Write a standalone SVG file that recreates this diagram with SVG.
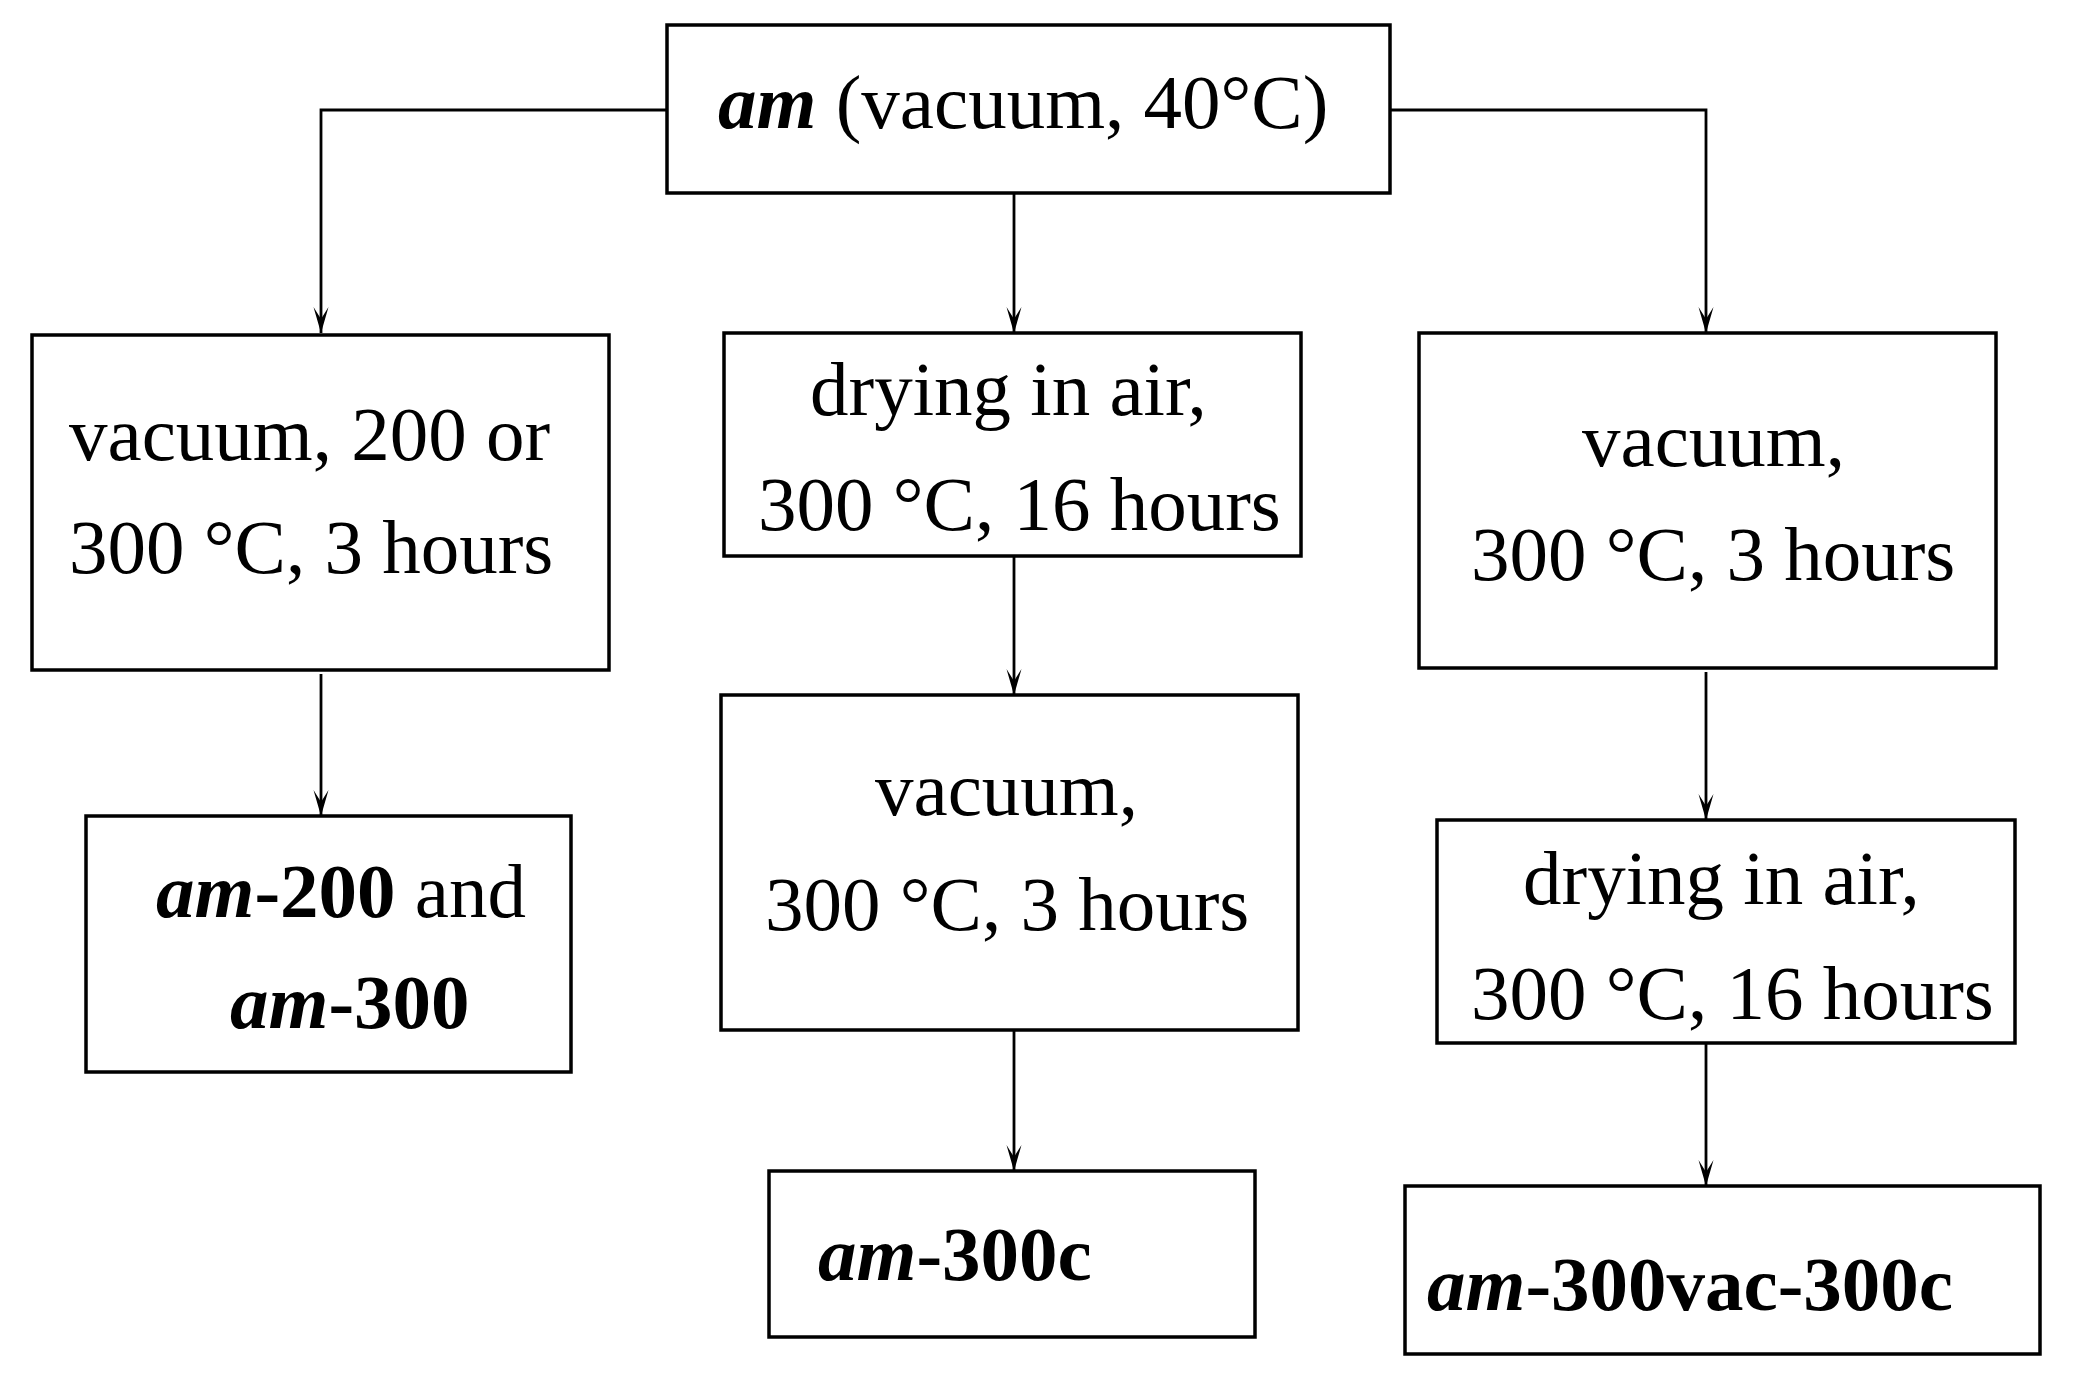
<svg xmlns="http://www.w3.org/2000/svg" width="2076" height="1385" viewBox="0 0 2076 1385">
<style>
.box{fill:#fff;stroke:#000;stroke-width:3.5}
.con{fill:none;stroke:#000;stroke-width:2.8}
text{font-family:"Liberation Serif","Times New Roman",serif;font-size:77px;fill:#000}
.bi{font-weight:bold;font-style:italic}
.b{font-weight:bold}
</style>
<defs>
<marker id="arr" markerUnits="userSpaceOnUse" markerWidth="32" markerHeight="20" viewBox="-30 -10 32 20" refX="0" refY="0" orient="auto">
<path d="M0,0 L-26,-7.5 L-14,0 L-26,7.5 Z" fill="#000"/>
</marker>
</defs>
<rect width="2076" height="1385" fill="#fff"/>
<g id="connectors">
<path class="con" d="M667,110 H321 V333" marker-end="url(#arr)"/>
<path class="con" d="M1390,110 H1706 V333" marker-end="url(#arr)"/>
<path class="con" d="M1014,193 V333" marker-end="url(#arr)"/>
<path class="con" d="M321,674 V816" marker-end="url(#arr)"/>
<path class="con" d="M1014,556 V695" marker-end="url(#arr)"/>
<path class="con" d="M1014,1030 V1171" marker-end="url(#arr)"/>
<path class="con" d="M1706,672 V820" marker-end="url(#arr)"/>
<path class="con" d="M1706,1043 V1186" marker-end="url(#arr)"/>
</g>
<g id="n_am">
<rect class="box" x="667" y="25" width="723" height="168"/>
<text x="718" y="128"><tspan class="bi">am</tspan> (vacuum, 40°C)</text>
</g>
<g id="n_vac200">
<rect class="box" x="32" y="335" width="577" height="335"/>
<text x="69" y="460">vacuum, 200 or</text>
<text x="69" y="573">300 °C, 3 hours</text>
</g>
<g id="n_air1">
<rect class="box" x="724" y="333" width="577" height="223"/>
<text x="810" y="415">drying in air,</text>
<text x="758" y="530">300 °C, 16 hours</text>
</g>
<g id="n_vac300r">
<rect class="box" x="1419" y="333" width="577" height="335"/>
<text x="1582" y="466">vacuum,</text>
<text x="1471" y="580">300 °C, 3 hours</text>
</g>
<g id="n_am200">
<rect class="box" x="86" y="816" width="485" height="256"/>
<text x="156" y="917"><tspan class="bi">am</tspan><tspan class="b">-200</tspan> and</text>
<text x="230" y="1028"><tspan class="bi">am</tspan><tspan class="b">-300</tspan></text>
</g>
<g id="n_vac300m">
<rect class="box" x="721" y="695" width="577" height="335"/>
<text x="875" y="815">vacuum,</text>
<text x="765" y="930">300 °C, 3 hours</text>
</g>
<g id="n_air2">
<rect class="box" x="1437" y="820" width="578" height="223"/>
<text x="1523" y="904">drying in air,</text>
<text x="1471" y="1019">300 °C, 16 hours</text>
</g>
<g id="n_am300c">
<rect class="box" x="769" y="1171" width="486" height="166"/>
<text x="818" y="1280"><tspan class="bi">am</tspan><tspan class="b">-300c</tspan></text>
</g>
<g id="n_am300vac">
<rect class="box" x="1405" y="1186" width="635" height="168"/>
<text x="1427" y="1310"><tspan class="bi">am</tspan><tspan class="b">-300vac-300c</tspan></text>
</g>
</svg>
